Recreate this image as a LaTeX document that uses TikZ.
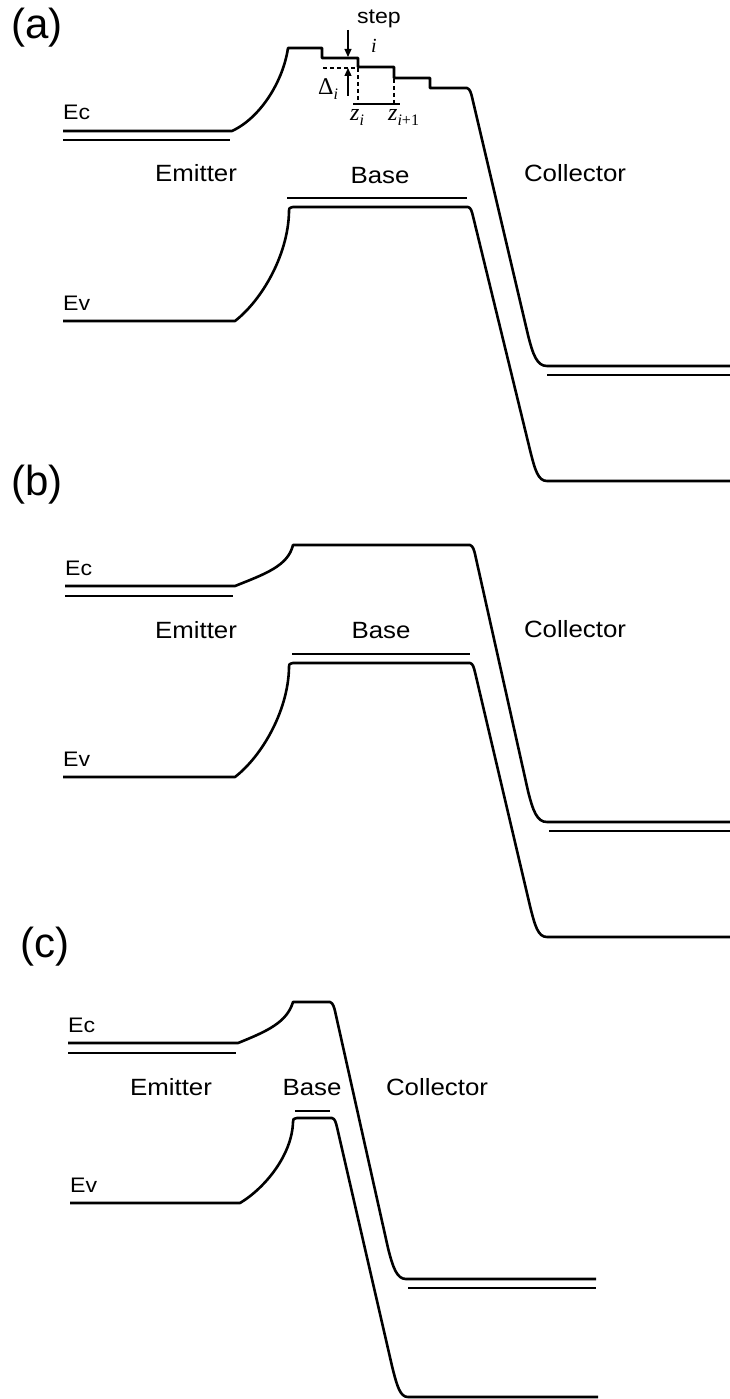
\documentclass[tikz,border=0pt]{standalone}
\usepackage{fontspec}
\setmainfont{Liberation Sans}
\newfontfamily\lab[FakeStretch=1.1]{Liberation Sans}
\newfontfamily\tms{Liberation Serif}
\usetikzlibrary{arrows.meta}
\begin{document}
\begin{tikzpicture}[x=1pt,y=-1pt,
  band/.style={line width=2.6pt, line join=round},
  lvl/.style={line width=1.5pt},
  dsh/.style={line width=1.1pt, dash pattern=on 4pt off 3pt},
  thinl/.style={line width=1.2pt},
  lbl/.style={font=\fontsize{23.5}{23.5}\selectfont\lab, inner sep=0pt, anchor=base},
  elab/.style={font=\fontsize{21}{21}\selectfont\lab, inner sep=0pt, anchor=base west},
  pan/.style={font=\fontsize{42}{42}\selectfont, inner sep=0pt},
  mth/.style={font=\fontsize{24}{24}\selectfont\tms, inner sep=0pt},
  arr/.style={line width=1.2pt, -{Triangle[length=8pt,width=7pt]}}]
\useasboundingbox (0,0) rectangle (730,1399);

% ================= (a) =================
\node[pan] (pa) at (37,28) {(a)};
\node[elab] (eca) at (63,120) {Ec};
\node[elab] (eva) at (63,310) {Ev};
\node[lbl] (ema) at (196,182) {Emitter};
\node[lbl] (baa) at (380,183) {Base};
\node[lbl] (coa) at (575,182) {Collector};

% conduction band with steps
\draw[band] (63,131) -- (232,131) .. controls (260,118) and (283,82) .. (288,48)
  -- (322,48) -- (322,58) -- (358,58) -- (358,67) -- (394,67) -- (394,78)
  -- (430,78) -- (430,88) -- (467,88)
  .. controls (470,89) and (471,93) .. (472,97) -- (528,335)
  .. controls (533,355) and (537,366) .. (547,366) -- (730,366);
% valence band
\draw[band] (63,321) -- (235,321) .. controls (262,300) and (288,255) .. (289,212)
  .. controls (289,208) .. (293,207) -- (468,207)
  .. controls (471,207.5) and (472,212) .. (473.2,217) -- (530,450)
  .. controls (535,470) and (538,481) .. (547,481) -- (730,481);
% thin levels
\draw[lvl] (63,140) -- (230,140);
\draw[lvl] (287,198) -- (467,198);
\draw[lvl] (547,375) -- (730,375);

% step annotation
\node[font=\fontsize{21}{21}\selectfont\lab, inner sep=0pt, anchor=base] (stp) at (379,24) {step};
\node[font=\fontsize{20}{20}\selectfont\tms\itshape, inner sep=0pt, anchor=base] (iv) at (374,53) {i};
\coordinate (sa) at (348,30);
\coordinate (sb) at (348,57);
\draw[arr] (sa) -- (sb);
\coordinate (da) at (348,96);
\coordinate (db) at (348,68);
\draw[arr] (da) -- (db);
\coordinate (h1) at (323,68);
\coordinate (h2) at (357,68);
\draw[dsh] (h1) -- (h2);
\coordinate (v1a) at (358,68);
\coordinate (v1b) at (358,103);
\draw[dsh] (v1a) -- (v1b);
\coordinate (v2a) at (394,79);
\coordinate (v2b) at (394,103);
\draw[dsh] (v2a) -- (v2b);
\coordinate (za) at (353,104);
\coordinate (zb) at (400,104);
\draw[thinl] (za) -- (zb);
\node[mth, anchor=base west] (dl) at (318,95) {Δ\raisebox{-5pt}{\fontsize{16}{16}\selectfont\itshape i}};
\node[mth, anchor=base west] (zi) at (350,121) {\itshape z\raisebox{-5pt}{\fontsize{16}{16}\selectfont i}};
\node[mth, anchor=base west] (zj) at (388,121) {\itshape z\raisebox{-5pt}{\fontsize{16}{16}\selectfont i\upshape +1}};

% ================= (b) =================
\node[pan] (pb) at (37,485) {(b)};
\node[elab] (ecb) at (65,575) {Ec};
\node[elab] (evb) at (63,766) {Ev};
\node[lbl] (emb) at (196,638) {Emitter};
\node[lbl] (bab) at (381,638) {Base};
\node[lbl] (cob) at (575,637) {Collector};
\begin{scope}[shift={(0,456)}]
\draw[band] (65,130) -- (235,130) .. controls (265,118) and (288,110) .. (293,89)
  -- (470,89)
  .. controls (473,90) and (474,94) .. (475,98) -- (528,335)
  .. controls (533,355) and (537,366) .. (547,366) -- (730,366);
\draw[band] (63,321) -- (235,321) .. controls (262,300) and (288,255) .. (289,212)
  .. controls (289,208) .. (293,207) -- (470,207)
  .. controls (473,207.5) and (474,212) .. (475.2,217) -- (530,450)
  .. controls (535,470) and (538,481) .. (547,481) -- (730,481);
\draw[lvl] (65,140) -- (233,140);
\draw[lvl] (292,198) -- (470,198);
\draw[lvl] (549,375) -- (730,375);
\end{scope}

% ================= (c) =================
\node[pan] (pc) at (45,947) {(c)};
\node[elab] (ecc) at (68,1032) {Ec};
\node[elab] (evc) at (70,1192) {Ev};
\node[lbl] (emc) at (171,1095) {Emitter};
\node[lbl] (bac) at (312,1095) {Base};
\node[lbl] (coc) at (437,1095) {Collector};
\draw[band] (68,1043) -- (238,1043) .. controls (268,1031) and (287,1022) .. (293,1002)
  -- (330,1002)
  .. controls (333,1003) and (334,1007) .. (335,1011) -- (388,1248)
  .. controls (393,1268) and (397,1279) .. (406,1279) -- (596,1279);
\draw[band] (70,1203) -- (240,1203) .. controls (265,1188) and (292,1155) .. (293,1122)
  .. controls (293,1119) .. (297,1118) -- (332,1118)
  .. controls (335,1118.5) and (336,1123) .. (337.2,1128) -- (392,1366)
  .. controls (397,1386) and (400,1397) .. (408,1397) -- (598,1397);
\draw[lvl] (68,1053) -- (236,1053);
\draw[lvl] (295,1111) -- (330,1111);
\draw[lvl] (408,1288) -- (596,1288);
\end{tikzpicture}
\end{document}
